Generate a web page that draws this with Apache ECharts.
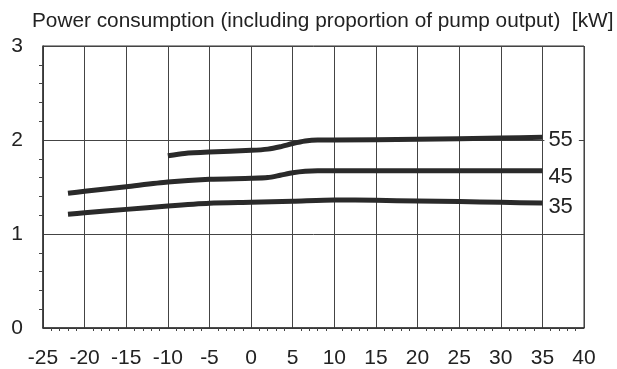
<!DOCTYPE html>
<html>
<head>
<meta charset="utf-8">
<script src="https://cdn.jsdelivr.net/npm/echarts@6/dist/echarts.min.js"></script>
<style>html,body{margin:0;padding:0;background:#fff;}#c{width:617px;height:369px;}</style>
</head>
<body>
<div id="c"></div>
<script>
const titleText = 'Power consumption (including proportion of pump output)  [kW]';
const xTicks = [-25, -20, -15, -10, -5, 0, 5, 10, 15, 20, 25, 30, 35, 40];
const yTicks = [0, 1, 2, 3];

const x35 = [-22, -20, -15, -10, -5, 0, 5, 10, 15, 20, 25, 30, 35];
const v35 = [1.21, 1.225, 1.262, 1.298, 1.327, 1.337, 1.348, 1.363, 1.358, 1.351, 1.345, 1.337, 1.33];

const x45 = [-22, -20, -15, -10, -5, 0, 2, 3.5, 5, 6.5, 8, 10, 20, 30, 35];
const v45 = [1.433, 1.454, 1.503, 1.553, 1.582, 1.592, 1.600, 1.625, 1.652, 1.668, 1.673, 1.673, 1.673, 1.673, 1.673];

const x55 = [-10, -8, -5, 0, 2, 3.5, 5, 6.5, 8, 10, 20, 30, 35];
const v55 = [1.833, 1.857, 1.872, 1.89, 1.903, 1.928, 1.963, 1.99, 2.0, 2.0, 2.007, 2.02, 2.029];

const names = ['55', '45', '35'];

const FONT = '"Liberation Sans", Arial, sans-serif';
const TXT = '#222';
const LINE = '#2a2a2a';

function pairs(xs, vs) { return xs.map((x, i) => [x, vs[i]]); }

function mkSeries(name, xs, vs, dy) {
  return {
    name: name,
    type: 'line',
    data: pairs(xs, vs),
    showSymbol: false,
    symbol: 'none',
    smooth: 0.25,
    lineStyle: { color: LINE, width: 5, cap: 'butt', join: 'round' },
    itemStyle: { color: LINE },
    silent: true,
    animation: false,
    endLabel: {
      show: true,
      formatter: name,
      fontSize: 22,
      fontFamily: FONT,
      color: TXT,
      backgroundColor: '#fff',
      padding: [0, 6, 0, 4],
      distance: 2,
      offset: [0, dy]
    }
  };
}

const chart = echarts.init(document.getElementById('c'), null, { renderer: 'canvas' });
chart.setOption({
  animation: false,
  backgroundColor: '#fff',
  title: {
    text: titleText,
    left: 32,
    top: 11,
    padding: 0,
    textStyle: { fontSize: 20.8, fontWeight: 'normal', color: TXT, fontFamily: FONT }
  },
  grid: {
    left: 43, right: 33, top: 46, bottom: 41,
    show: true, borderColor: '#333', borderWidth: 1, backgroundColor: 'transparent'
  },
  xAxis: {
    type: 'value',
    min: xTicks[0], max: xTicks[xTicks.length - 1], interval: 5,
    axisLine: { show: true, onZero: false, lineStyle: { color: '#333', width: 1.5 } },
    axisTick: { show: false },
    minorTick: { show: true, splitNumber: 5, length: 3, lineStyle: { color: '#444', width: 1 } },
    axisLabel: { fontSize: 21, color: TXT, fontFamily: FONT, margin: 20 },
    splitLine: { show: true, lineStyle: { color: '#444', width: 1 } }
  },
  yAxis: {
    type: 'value',
    min: yTicks[0], max: yTicks[yTicks.length - 1], interval: 1,
    axisLine: { show: true, onZero: false, lineStyle: { color: '#333', width: 1.5 } },
    axisTick: { show: false },
    minorTick: { show: true, splitNumber: 5, length: 4, lineStyle: { color: '#444', width: 1 } },
    axisLabel: { fontSize: 21, color: TXT, fontFamily: FONT, margin: 20 },
    splitLine: { show: true, lineStyle: { color: '#444', width: 1 } }
  },
  series: [
    mkSeries(names[0], x55, v55, 3),
    mkSeries(names[1], x45, v45, 6),
    mkSeries(names[2], x35, v35, 4)
  ]
});
</script>
</body>
</html>
